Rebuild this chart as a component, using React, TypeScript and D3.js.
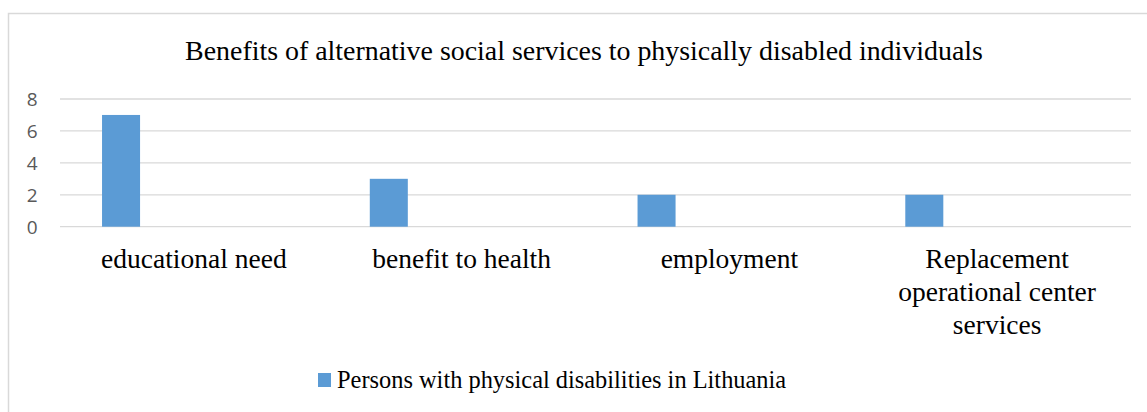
import React, { useEffect, useRef } from "react";
import * as d3 from "d3";

const categories = ["educational need", "benefit to health", "employment", "Replacement operational center services"];
const seriesName = "Persons with physical disabilities in Lithuania";
const values = [7, 3, 2, 2];
const yTicks = [0, 2, 4, 6, 8];
const title = "Benefits of alternative social services to physically disabled individuals";

const W = 1147;
const H = 412;

export default function App() {
  const ref = useRef<SVGSVGElement | null>(null);

  useEffect(() => {
    const svg = d3.select(ref.current);
    svg.selectAll("*").remove();

    const left = 60, right = 1131, top = 99, bottom = 226.7;
    const serif = "Liberation Serif, Times New Roman, serif";

    // frame
    svg.append("rect")
      .attr("x", 8.5).attr("y", 13.5).attr("width", 1300).attr("height", 600)
      .attr("fill", "white").attr("stroke", "#d9d9d9").attr("stroke-width", 1.5);

    const x = d3.scaleBand<string>()
      .domain(categories)
      .range([left, right])
      .paddingInner(0.858)
      .paddingOuter(0.429)
      .align(0.183);
    const xc = d3.scaleBand<string>().domain(categories).range([left, right]).padding(0);
    const y = d3.scaleLinear().domain([0, 8]).range([bottom, top]);

    // gridlines
    svg.append("g").selectAll("line").data(yTicks).join("line")
      .attr("x1", left).attr("x2", right)
      .attr("y1", d => y(d)).attr("y2", d => y(d))
      .attr("stroke", "#d9d9d9").attr("stroke-width", 1.3);

    // y labels
    svg.append("g").selectAll("text").data(yTicks).join("text")
      .attr("x", 37.5).attr("y", d => y(d) + 2)
      .attr("text-anchor", "end").attr("dominant-baseline", "middle")
      .style("font-family", "Open Sans, sans-serif").style("font-size", "19px")
      .attr("fill", "#595959")
      .text(d => String(d));

    // bars
    svg.append("g").selectAll("rect").data(values).join("rect")
      .attr("x", (_, i) => x(categories[i])!)
      .attr("width", x.bandwidth())
      .attr("y", d => y(d))
      .attr("height", d => y(0) - y(d))
      .attr("fill", "#5b9bd5");

    // category labels with wrapping
    const maxW = 215;
    const lh = 33;
    categories.forEach(cat => {
      const cx = xc(cat)! + xc.bandwidth() / 2;
      const t = svg.append("text")
        .attr("x", cx)
        .attr("y", 268)
        .attr("text-anchor", "middle")
        .style("font-family", serif).style("font-size", "27.5px").attr("fill", "#000");
      const words = cat.split(" ");
      let line: string[] = [];
      let tspan = t.append("tspan").attr("x", cx).attr("dy", 0);
      words.forEach(w => {
        line.push(w);
        tspan.text(line.join(" "));
        if ((tspan.node() as SVGTSpanElement).getComputedTextLength() > maxW && line.length > 1) {
          line.pop();
          tspan.text(line.join(" "));
          line = [w];
          tspan = t.append("tspan").attr("x", cx).attr("dy", lh).text(w);
        }
      });
    });

    // title
    svg.append("text")
      .attr("x", 584).attr("y", 60)
      .attr("text-anchor", "middle")
      .style("font-family", serif).style("font-size", "27.9px").attr("fill", "#000")
      .text(title);

    // legend
    svg.append("rect").attr("x", 318).attr("y", 373).attr("width", 13).attr("height", 14).attr("fill", "#5b9bd5");
    svg.append("text")
      .attr("x", 337).attr("y", 388)
      .style("font-family", serif).style("font-size", "24.4px").attr("fill", "#000")
      .text(seriesName);
  }, []);

  return (
    <svg ref={ref} width={W} height={H} style={{ position: "absolute", left: 0, top: 0, background: "white" }} />
  );
}
